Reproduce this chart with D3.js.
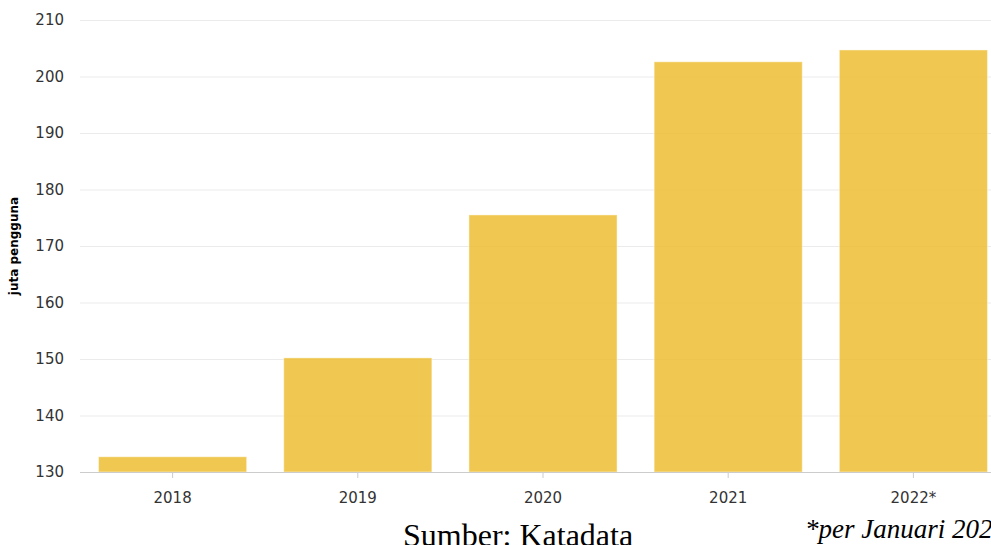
<!DOCTYPE html>
<html>
<head>
<meta charset="utf-8">
<script src="https://cdn.jsdelivr.net/npm/d3@7"></script>
<style>
  html, body { margin: 0; padding: 0; background: #fff; overflow: hidden; }
  svg { display: block; }
</style>
</head>
<body>
<svg id="chart" width="991" height="545"></svg>
<script>
const categories = ["2018", "2019", "2020", "2021", "2022*"];
const values = [132.7, 150.2, 175.5, 202.6, 204.7];
const yTicks = [130, 140, 150, 160, 170, 180, 190, 200, 210];
const yLabel = "juta pengguna";
const sourceText = "Sumber: Katadata";
const noteText = "*per Januari 2022";

(function () {
const svg = d3.select("#chart");
const plotLeft = 80, plotRight = 1006, plotTop = 20, plotBottom = 472;

const x = d3.scaleBand().domain(categories).range([plotLeft, plotRight]).paddingInner(0.2).paddingOuter(0.1);
const y = d3.scaleLinear().domain([130, 210]).range([plotBottom, plotTop]);

// gridlines
svg.append("g").selectAll("line").data(yTicks.filter(t => t !== 130)).join("line")
  .attr("x1", plotLeft).attr("x2", 991)
  .attr("y1", d => y(d) + 0.5).attr("y2", d => y(d) + 0.5)
  .attr("stroke", "#ebebeb").attr("stroke-width", 1);

// bars
svg.append("g").selectAll("rect").data(values).join("rect")
  .attr("x", (d, i) => x(categories[i]))
  .attr("width", x.bandwidth())
  .attr("y", d => y(d))
  .attr("height", d => y(130) - y(d))
  .attr("fill", "rgb(237,190,50)")
  .attr("fill-opacity", 0.85)
  .attr("stroke", "rgba(255,255,255,0.45)")
  .attr("stroke-width", 1);

// y axis labels
const yAxis = d3.axisLeft(y).tickValues(yTicks).tickSize(0).tickPadding(0).tickFormat(d3.format("d"));
const ya = svg.append("g").attr("transform", "translate(64,0)").call(yAxis);
ya.select(".domain").remove();
ya.selectAll("text").attr("font-family", "DejaVu Sans, Verdana, sans-serif").attr("font-size", 15).attr("fill", "#333");

// x axis
const xAxis = d3.axisBottom(x).tickSize(6).tickPadding(14);
const xa = svg.append("g").attr("transform", `translate(0,${plotBottom})`).call(xAxis);
xa.select(".domain").attr("d", `M${plotLeft},0.5H991`).attr("stroke", "#cccccc");
xa.selectAll(".tick line").attr("stroke", "#cccccc");
xa.selectAll("text").attr("font-family", "DejaVu Sans, Verdana, sans-serif").attr("font-size", 15).attr("fill", "#333");

// y label
svg.append("text")
  .attr("transform", "translate(18,246) rotate(-90)")
  .attr("text-anchor", "middle")
  .attr("font-family", "DejaVu Sans, Verdana, sans-serif")
  .attr("font-weight", "bold")
  .attr("font-size", 12)
  .attr("fill", "#000")
  .text(yLabel);

// footer texts
svg.append("text")
  .attr("x", 403).attr("y", 546)
  .attr("font-family", "Liberation Serif, Times New Roman, serif")
  .attr("font-size", 32)
  .attr("fill", "#000")
  .text(sourceText);

svg.append("text")
  .attr("x", 805).attr("y", 538)
  .attr("font-family", "Liberation Serif, Times New Roman, serif")
  .attr("font-style", "italic")
  .attr("font-size", 27)
  .attr("fill", "#000")
  .text(noteText);
})();
</script>
</body>
</html>
